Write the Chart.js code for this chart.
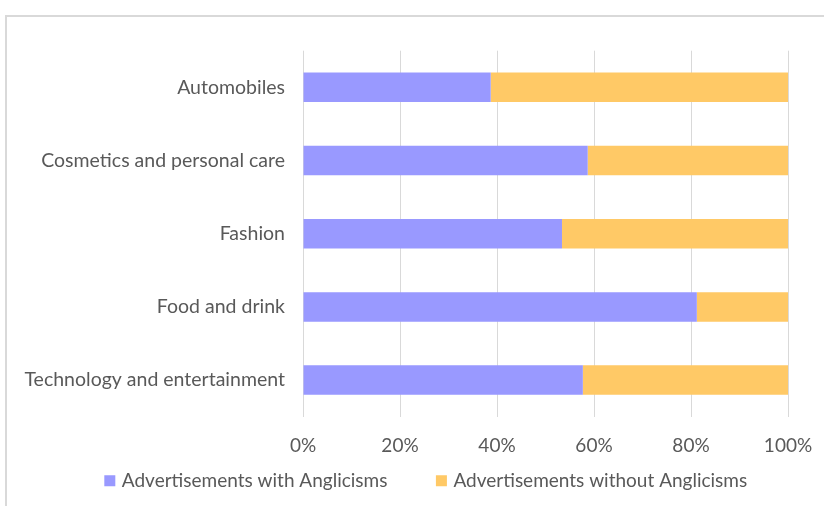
<!DOCTYPE html>
<html>
<head>
<meta charset="utf-8">
<script src="https://cdn.jsdelivr.net/npm/chart.js@4"></script>
<style>
  html, body { margin: 0; padding: 0; background: #ffffff; }
  #wrap { width: 824px; height: 506px; }
</style>
</head>
<body>
<div id="wrap"><canvas id="c" width="824" height="506"></canvas></div>
<script>
const categories = [
  "Automobiles",
  "Cosmetics and personal care",
  "Fashion",
  "Food and drink",
  "Technology and entertainment"
];
const withAnglicisms = [38.7, 58.7, 53.4, 81.2, 57.7];
const withoutAnglicisms = [61.3, 41.3, 46.6, 18.8, 42.3];
const seriesNames = ["Advertisements with Anglicisms", "Advertisements without Anglicisms"];
const tickLabels = ["0%", "20%", "40%", "60%", "80%", "100%"];

const FONT = "Lato, 'Open Sans', sans-serif";
const TEXT = "#595959";

const framePlugin = {
  id: 'frame',
  beforeDraw(chart) {
    const ctx = chart.ctx;
    ctx.save();
    ctx.strokeStyle = '#d9d9d9';
    ctx.lineWidth = 2;
    ctx.strokeRect(6, 16, 900, 600);
    ctx.restore();
  }
};

new Chart(document.getElementById('c'), {
  type: 'bar',
  data: {
    labels: categories,
    datasets: [
      { label: seriesNames[0], data: withAnglicisms, backgroundColor: '#9999ff',
        barPercentage: 0.403, categoryPercentage: 1 },
      { label: seriesNames[1], data: withoutAnglicisms, backgroundColor: '#ffc966',
        barPercentage: 0.403, categoryPercentage: 1 }
    ]
  },
  options: {
    indexAxis: 'y',
    responsive: false,
    animation: false,
    devicePixelRatio: 1,
    layout: { padding: { left: 22, right: -8.5, top: 50.7, bottom: 5.8 } },
    scales: {
      x: {
        stacked: true,
        min: 0, max: 100,
        afterFit(scale) { scale.height = 3; scale.paddingRight = 36; },
        grid: { color: '#d9d9d9', lineWidth: 1, drawTicks: false },
        border: { display: false },
        ticks: {
          stepSize: 20,
          mirror: true,
          padding: -40.9,
          color: TEXT,
          font: { family: FONT, size: 19 },
          callback: (v) => tickLabels[Math.round(v / 20)]
        }
      },
      y: {
        stacked: true,
        afterFit(scale) { scale.width = 281; },
        grid: { display: false, drawTicks: false },
        border: { display: false },
        ticks: { padding: 18, color: TEXT, font: { family: FONT, size: 19.5 } }
      }
    },
    plugins: {
      legend: {
        position: 'bottom',
        labels: {
          usePointStyle: true, pointStyle: 'rect',
          boxWidth: 5, boxHeight: 11, padding: 51.5,
          color: TEXT, font: { family: FONT, size: 19 }
        }
      },
      tooltip: { enabled: false }
    }
  },
  plugins: [framePlugin]
});
</script>
</body>
</html>
